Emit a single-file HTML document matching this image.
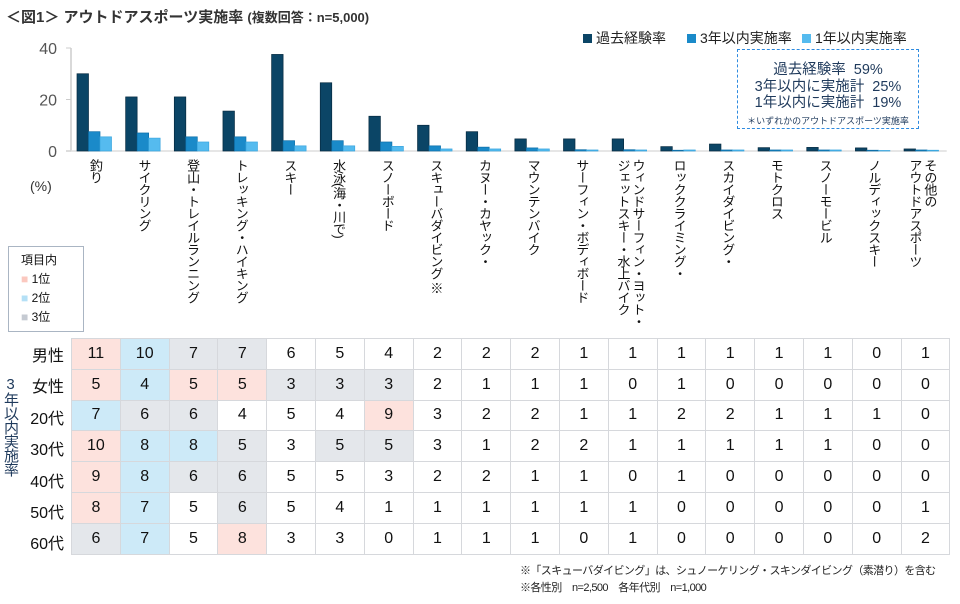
<!DOCTYPE html>
<html><head><meta charset="utf-8">
<style>
body{margin:0;width:960px;height:604px;background:#fff;font-family:"Liberation Sans","Noto Sans CJK JP",sans-serif;position:relative;overflow:hidden;color:#111}
.abs{position:absolute}
.vl{position:absolute;top:159px;writing-mode:vertical-rl;font-size:13px;line-height:15px;letter-spacing:-1px;color:#111;white-space:nowrap}
table{position:absolute;left:71px;top:338px;border-collapse:collapse}
td{width:47.8px;height:29.8px;border:1.5px solid #d6d8dc;text-align:center;font-size:16px;padding:0;color:#111}
.p{background:#fde2dd}.b{background:#cdeaf8}.g{background:#e4e7eb}
.rl{position:absolute;left:24px;font-size:16px;width:40px;text-align:right}
</style></head><body>
<div class="abs" style="left:6px;top:6px;font-size:15px;font-weight:bold;color:#333">＜図1＞ アウトドアスポーツ実施率 <span style="font-size:13px">(複数回答：n=5,000)</span></div>
<svg id="chart" class="abs" style="left:0;top:0" width="960" height="160"></svg>
<div class="abs" style="left:30px;top:178px;font-size:14px;color:#333">(%)</div>
<div id="labels"></div>
<div class="abs" style="left:737px;top:49px;width:182px;height:80px;border:1.5px dashed #2e8be0;text-align:center;color:#1f3a5c;font-size:14.5px;line-height:16.5px;padding-top:12px;box-sizing:border-box">過去経験率&nbsp;&nbsp;59%<br>3年以内に実施計&nbsp;&nbsp;25%<br>1年以内に実施計&nbsp;&nbsp;19%<br><span style="font-size:9px">＊いずれかのアウトドアスポーツ実施率</span></div>
<div class="abs" style="left:8px;top:246px;width:76px;height:86px;border:1.5px solid #aab5c3;font-size:12px;line-height:19px;padding:4px 0 0 12px;box-sizing:border-box">項目内<br><span style="color:#fbc8bf">■</span> 1位<br><span style="color:#b4e0f6">■</span> 2位<br><span style="color:#c5cad2">■</span> 3位</div>
<div class="abs" style="left:2px;top:376px;writing-mode:vertical-rl;text-orientation:upright;font-size:15px;line-height:16px;letter-spacing:-1px;color:#1f3a5c">3年以内実施率</div>
<div id="rows"></div>
<table id="tbl"></table>
<div class="abs" style="left:520px;top:563px;font-size:11px;line-height:17px;color:#222;white-space:nowrap;letter-spacing:-0.6px">※「スキューバダイビング」は、シュノーケリング・スキンダイビング（素潜り）を含む<br>※各性別　n=2,500　各年代別　n=1,000</div>
<script>
const categories=["釣り","サイクリング","登山・トレイルランニング","トレッキング・ハイキング","スキー","水泳(海・川で)","スノーボード","スキューバダイビング ※","カヌー・カヤック・","マウンテンバイク","サーフィン・ボディボード","ウィンドサーフィン・ヨット・\nジェットスキー・水上バイク","ロッククライミング・","スカイダイビング・","モトクロス","スノーモービル","ノルディックスキー","その他の\nアウトドアスポーツ"];
const pastRate=[30,21,21,15.5,37.5,26.5,13.5,10,7.5,4.7,4.7,4.7,1.7,2.7,1.3,1.4,1.2,0.8];
const rate3yr=[7.5,7,5.5,5.5,4,4,3.5,2,1.5,1.2,0.5,0.5,0.3,0.4,0.4,0.4,0.3,0.4];
const rate1yr=[5.5,5,3.5,3.5,2,2,1.8,0.8,0.8,0.8,0.4,0.4,0.4,0.4,0.4,0.4,0.2,0.3];
const yTicks=[0,20,40];
const seriesNames=["過去経験率","3年以内実施率","1年以内実施率"];
const rowLabels=["男性","女性","20代","30代","40代","50代","60代"];
const tableVals=[[11,10,7,7,6,5,4,2,2,2,1,1,1,1,1,1,0,1],[5,4,5,5,3,3,3,2,1,1,1,0,1,0,0,0,0,0],[7,6,6,4,5,4,9,3,2,2,1,1,2,2,1,1,1,0],[10,8,8,5,3,5,5,3,1,2,2,1,1,1,1,1,0,0],[9,8,6,6,5,5,3,2,2,1,1,0,1,0,0,0,0,0],[8,7,5,6,5,4,1,1,1,1,1,1,0,0,0,0,0,1],[6,7,5,8,3,3,0,1,1,1,0,1,0,0,0,0,0,2]];
const tableRanks=[[1,2,3,3],[1,2,1,1,3,3,3],[2,3,3,0,0,0,1],[1,2,2,3,0,3,3],[1,2,3,3],[1,2,0,3],[3,2,0,1]];
const ns="http://www.w3.org/2000/svg";
const svg=document.getElementById('chart');
const x0=71,step=48.65,y0=151,k=103/40;
const X=i=>x0+step*i;const Y=v=>y0-v*k;
function mk(t,a){const e=document.createElementNS(ns,t);for(const q in a)e.setAttribute(q,a[q]);svg.appendChild(e);return e;}
const ax=mk('line',{x1:x0,y1:Y(40),x2:x0,y2:y0,stroke:'#ccc','stroke-width':1.5});

const bx=mk('line',{x1:x0-5,y1:y0,x2:x0+step*18,y2:y0,stroke:'#ddd','stroke-width':1.5});

yTicks.forEach(t=>{const l=mk('line',{x1:x0-5,y1:Y(t),x2:x0,y2:Y(t),stroke:'#ccc'});
const tx=mk('text',{x:x0-14,y:Y(t)+6,'text-anchor':'end','font-size':16,fill:'#555'});tx.textContent=t;});
const cols=["#0b4566","#1a8ac9","#55bbef"];const strokes=["#062a40","#0e6fa8","#3aa6df"];
const bw=11.5;
[pastRate,rate3yr,rate1yr].forEach((arr,s)=>arr.forEach((v,i)=>{const r=mk('rect',{x:X(i)+6+s*bw,y:Y(v),width:bw,height:y0-Y(v),fill:cols[s],stroke:strokes[s],'stroke-width':0.7});}));
let lx=583;seriesNames.forEach((n,s)=>{const r=mk('rect',{x:lx,y:34,width:9,height:9,fill:cols[s]});
const t=mk('text',{x:lx+13,y:43,'font-size':14,fill:'#222'});t.textContent=n;lx+= s==0?104:115;});
const lab=document.getElementById('labels');
categories.forEach((c,i)=>{const d=document.createElement('div');d.className='vl';d.innerHTML=c.replace('\n','<br>');
const w=c.includes('\n')?30:15;d.style.left=(X(i)+step/2-w/2)+'px';
lab.appendChild(d);});
const tbl=document.getElementById('tbl');const rows=document.getElementById('rows');
tableVals.forEach((r,ri)=>{const tr=document.createElement('tr');r.forEach((v,ci)=>{const td=document.createElement('td');td.textContent=v;const rk=(tableRanks[ri][ci]||0);if(rk)td.className=['','p','b','g'][rk];
tr.appendChild(td);});tbl.appendChild(tr);
const l=document.createElement('div');l.className='rl';l.style.top=(342+ri*31.4)+'px';l.textContent=rowLabels[ri];
rows.appendChild(l);});
</script>
</body></html>
